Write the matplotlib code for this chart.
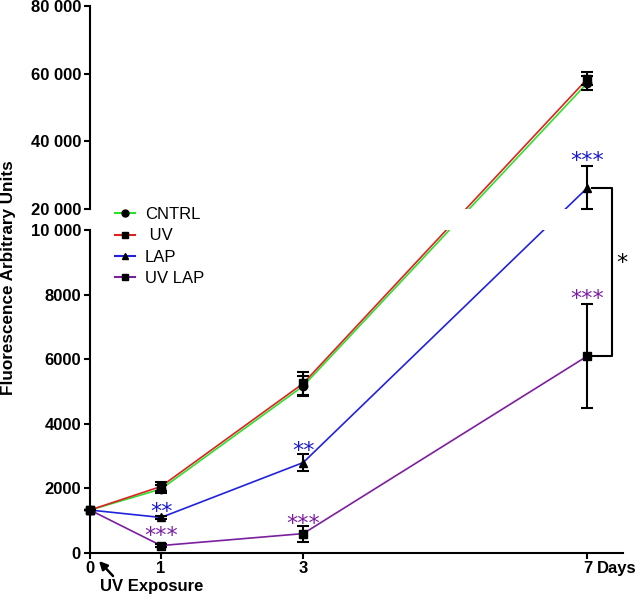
import numpy as np
import matplotlib
matplotlib.use('Agg')
import matplotlib.pyplot as plt
from matplotlib.lines import Line2D

plt.rcParams['font.family'] = ['Liberation Sans', 'DejaVu Sans']

# data
days = [0, 1, 3, 7]
series_names = ['CNTRL', ' UV', 'LAP', 'UV LAP']
cntrl = [1330, 1980, 5170, 57300]
uv = [1330, 2060, 5250, 58500]
lap = [1330, 1100, 2800, 26300]
uv_lap = [1330, 230, 600, 6100]
cntrl_err = [0, 120, 300, 2000]
uv_err = [0, 150, 350, 1900]
lap_err = [0, 60, 260, 6300]
uv_lap_err = [0, 50, 250, 1600]
colors = ['#2ee02e', '#dd2222', '#2222dd', '#7a1f9e']
markers = ['o', 's', '^', 's']

ytick_vals = [0, 2000, 4000, 6000, 8000, 10000, 20000, 40000, 60000, 80000]
ytick_labels = ['0', '2000', '4000', '6000', '8000', '10 000', '20 000', '40 000', '60 000', '80 000']
xtick_labels = ['0', '1', '3', '7']

# significance stars (x, y, text, colour)
star_x = [1, 1, 3, 3, 7, 7]
star_y = [1420, 650, 3280, 1050, 35500, 8000]
star_txt = ['**', '***', '**', '***', '***', '***']
star_col = ['#1a1acc', '#7a1f9e', '#1a1acc', '#7a1f9e', '#1a1acc', '#7a1f9e']

# broken axis: 0-10000 low part, 20000-80000 high part
def fwd(v):
    v = np.asarray(v, dtype=float)
    return np.where(v <= 10000, v * 0.0323,
                    np.where(v <= 20000, 323 + (v - 10000) * 0.0021,
                             344 + (v - 20000) * 203 / 60000))

def inv(t):
    t = np.asarray(t, dtype=float)
    return np.where(t <= 323, t / 0.0323,
                    np.where(t <= 344, 10000 + (t - 323) / 0.0021,
                             20000 + (t - 344) * 60000 / 203))

fig = plt.figure(figsize=(6.39, 5.97), dpi=100)
ax = fig.add_axes([90 / 639, 44 / 597, 533 / 639, 547 / 597])
ax.set_yscale('function', functions=(fwd, inv))
ax.set_xlim(0, 7.5)
ax.set_ylim(0, 80000)

vals = [cntrl, uv, lap, uv_lap]
errs = [cntrl_err, uv_err, lap_err, uv_lap_err]
for v, c in zip(vals, colors):
    ax.plot(days, v, color=c, lw=1.2, zorder=2, clip_on=False)

# gap of the broken axis
ax.axhspan(10000, 20000, color='white', zorder=2.5, lw=0)

for v, e, m in zip(vals, errs, markers):
    ax.errorbar(days, v, yerr=e, fmt=m, color='black', ms=6, elinewidth=1.5,
                capsize=4.5, capthick=1.5, zorder=4, clip_on=False)

# axes lines
for s in ['top', 'right', 'left']:
    ax.spines[s].set_visible(False)
ax.spines['bottom'].set_linewidth(1.5)
ytr = ax.get_yaxis_transform()
ax.plot([0, 0], [0, 10000], color='black', lw=1.5, transform=ytr, clip_on=False, zorder=5)
ax.plot([0, 0], [20000, 80000], color='black', lw=1.5, transform=ytr, clip_on=False, zorder=5)

ax.set_yticks(ytick_vals)
ax.set_yticklabels(ytick_labels)
ax.minorticks_off()
ax.set_xticks(days)
ax.set_xticklabels(xtick_labels)
ax.tick_params(axis='y', length=4.5, width=1.5, pad=2, labelsize=12)
ax.tick_params(axis='x', length=4, width=1.5, pad=1.5, labelsize=12)
for lab in ax.get_xticklabels() + ax.get_yticklabels():
    lab.set_fontweight('bold')

ax.annotate('Days', xy=(7, 0), xycoords=('data', 'axes fraction'), xytext=(6.5, -6),
            textcoords='offset points', ha='left', va='top', fontsize=12, fontweight='bold')

fig.text(9 / 639, 1 - 278 / 597, 'Fluorescence Arbitrary Units', rotation=90,
         ha='center', va='center', fontsize=12.3, fontweight='bold')

# UV exposure arrow
fig.text(100 / 639, 1 - 587 / 597, 'UV Exposure', ha='left', va='center',
         fontsize=12, fontweight='bold')
ax.annotate('', xy=(99 / 639, 1 - 561 / 597), xycoords='figure fraction',
            xytext=(113 / 639, 1 - 576 / 597), textcoords='figure fraction',
            arrowprops=dict(arrowstyle='-|>', color='black', lw=1.8,
                            mutation_scale=12, shrinkA=0, shrinkB=0))

for x, y, t, c in zip(star_x, star_y, star_txt, star_col):
    ax.annotate(t, xy=(x, y), xytext=(0, -7.5), textcoords='offset points',
                ha='center', va='baseline', fontsize=16, color=c, zorder=6,
                family='DejaVu Sans', annotation_clip=False)

# bracket between LAP and UV LAP at day 7
ax.plot([7.07, 7.35, 7.35, 7.07], [lap[3], lap[3], uv_lap[3], uv_lap[3]],
        color='black', lw=1.5, clip_on=False, zorder=5)
ax.annotate('*', xy=(7.49, 9100), xytext=(0, -7.5), textcoords='offset points',
            ha='center', va='baseline', fontsize=16, color='black',
            family='DejaVu Sans', annotation_clip=False)

handles = [Line2D([], [], color=c, marker=m, mfc='black', mec='black', ms=5, lw=1.5)
           for c, m in zip(colors, markers)]
ax.legend(handles, series_names, loc='upper left', bbox_to_anchor=(115 / 639, 1 - 207 / 597),
          bbox_transform=fig.transFigure, frameon=False, fontsize=12, handlelength=1.2,
          handletextpad=0.6, labelspacing=0.38, borderpad=0, borderaxespad=0)

fig.savefig('out.png', dpi=100)
